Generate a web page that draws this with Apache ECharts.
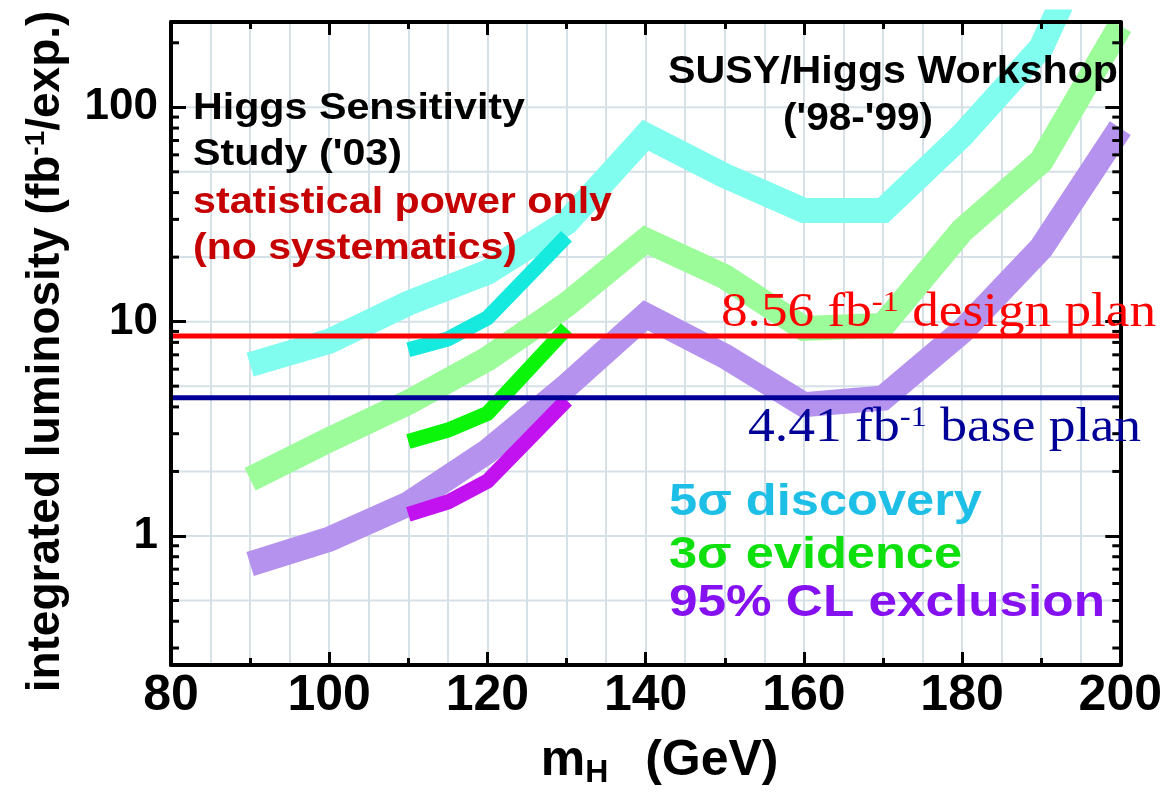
<!DOCTYPE html>
<html>
<head>
<meta charset="utf-8">
<script src="https://cdn.jsdelivr.net/npm/echarts@6/dist/echarts.min.js"></script>
<style>
  html, body { margin: 0; padding: 0; background: #ffffff; }
  #chart { width: 1165px; height: 794px; }
</style>
</head>
<body>
<div id="chart"></div>
<script>
// Higgs mass points (GeV) for the workshop curves
const massGeV = [90, 100, 110, 120, 130, 140, 150, 160, 170, 180, 190, 200];
// Integrated luminosity needed per experiment (fb^-1), SUSY/Higgs Workshop ('98-'99)
const discovery5Sigma = [6.3, 8.1, 12.2, 17.0, 29, 74, 48, 33, 33, 74, 190, 1200];
const evidence3Sigma  = [1.84, 2.81, 4.2, 6.7, 12.0, 24, 16.2, 9.3, 9.6, 26.6, 56, 240];
const exclusion95CL   = [0.74, 0.965, 1.41, 2.48, 5.0, 10.7, 6.9, 4.1, 4.4, 9.0, 22, 80];
// Higgs Sensitivity Study ('03), statistical power only
const studyMassGeV   = [110, 115, 120, 130];
const studyDiscovery = [7.4, 8.3, 10.4, 25];
const studyEvidence  = [2.76, 3.12, 3.73, 9.3];
const studyExclusion = [1.26, 1.44, 1.80, 4.3];
// Run plans (fb^-1)
const designPlan = 8.56;
const basePlan = 4.41;
// Axis ticks
const xTickLabels = [80, 100, 120, 140, 160, 180, 200];
const yTickLabels = [1, 10, 100];
const yGridValues = [0.5, 1, 2, 5, 10, 20, 50, 100];
const yMinorTicks = [0.3, 0.4, 0.5, 0.6, 0.7, 0.8, 0.9,
                     2, 3, 4, 5, 6, 7, 8, 9,
                     20, 30, 40, 50, 60, 70, 80, 90, 200];

const SANS = '"Liberation Sans", Arial, Helvetica, sans-serif';
const SERIF = '"Liberation Serif", "Times New Roman", serif';
const X_MIN = 80, X_MAX = 200;

const chart = echarts.init(document.getElementById('chart'), null, { renderer: 'canvas' });

const pairs = (xs, ys) => xs.map((x, i) => [x, ys[i]]);

function band(name, xs, ys, color, width, z) {
  return {
    type: 'line', name, data: pairs(xs, ys), xAxisIndex: 0, yAxisIndex: 0,
    symbol: 'none', showSymbol: false, silent: true, z,
    itemStyle: { color },
    lineStyle: { color, width, join: 'miter', cap: 'butt', miterLimit: 10 }
  };
}

function planLine(name, value, color) {
  return {
    type: 'line', name, data: [[X_MIN, value], [X_MAX, value]], xAxisIndex: 0, yAxisIndex: 0,
    symbol: 'none', showSymbol: false, silent: true, z: 4,
    itemStyle: { color }, lineStyle: { color, width: 5, cap: 'butt' }
  };
}

const frameLine = { show: true, onZero: false, lineStyle: { color: '#000', width: 4 } };

function xFrame(position, showLabels) {
  return {
    type: 'value', position, min: X_MIN, max: X_MAX, interval: 20, z: 10,
    axisLine: frameLine,
    axisTick: { show: true, inside: true, length: 13, lineStyle: { color: '#000', width: 3 } },
    minorTick: { show: true, splitNumber: 2, length: 7, lineStyle: { color: '#000', width: 3 } },
    splitLine: { show: false },
    axisLabel: {
      show: showLabels, margin: 6, color: '#000', fontSize: 50, fontWeight: 'bold', fontFamily: SANS,
      formatter: v => xTickLabels.includes(Math.round(v)) ? String(Math.round(v)) : ''
    }
  };
}

function yFrame(position, showLabels) {
  return {
    type: 'log', logBase: 10, position, min: 0.25, max: 250, z: 10,
    axisLine: frameLine,
    axisTick: { show: true, inside: true, length: 15, lineStyle: { color: '#000', width: 3 } },
    minorTick: { show: false },
    splitLine: { show: false },
    axisLabel: {
      show: showLabels, margin: 13, color: '#000', fontSize: 44, fontWeight: 'bold', fontFamily: SANS,
      formatter: v => {
        const hit = yTickLabels.find(t => Math.abs(t - v) / t < 1e-6);
        return hit === undefined ? '' : String(hit);
      }
    }
  };
}

const xAxes = [
  Object.assign(xFrame('bottom', true), {
    name: '{m|m}{h|H}{g|  (GeV)}',
    nameLocation: 'middle', nameGap: 68,
    nameTextStyle: {
      padding: [0, 0, 0, 28],
      rich: {
        m: { fontSize: 50, fontWeight: 'bold', fontFamily: SANS, color: '#000', lineHeight: 56 },
        h: { fontSize: 32, fontWeight: 'bold', fontFamily: SANS, color: '#000', lineHeight: 32, verticalAlign: 'bottom' },
        g: { fontSize: 50, fontWeight: 'bold', fontFamily: SANS, color: '#000', lineHeight: 56, padding: [0, 0, 0, 9] }
      }
    }
  }),
  xFrame('top', false),
  {
    // 5 GeV guide lines
    type: 'value', position: 'bottom', min: X_MIN, max: X_MAX, interval: 5, z: 0,
    axisLine: { show: false }, axisTick: { show: false }, axisLabel: { show: false },
    splitLine: { show: true, lineStyle: { color: '#d5e1e7', width: 2 } }
  }
];

const yAxes = [
  Object.assign(yFrame('left', true), {
    name: '{a|integrated luminosity (fb}{s|-1}{a|/exp.)}',
    nameLocation: 'middle', nameGap: 101,
    nameTextStyle: {
      padding: [0, 16, 0, 0],
      rich: {
        a: { fontSize: 46, fontWeight: 'bold', fontFamily: SANS, color: '#000', lineHeight: 48 },
        s: { fontSize: 28, fontWeight: 'bold', fontFamily: SANS, color: '#000', lineHeight: 28, verticalAlign: 'top' }
      }
    }
  }),
  yFrame('right', false)
];

// horizontal guide lines at 1, 2, 5 per decade
const yGuideSeries = {
  type: 'custom', name: 'y-guides', xAxisIndex: 0, yAxisIndex: 0, z: 1, silent: true, clip: false,
  data: yGridValues.map(v => [X_MIN, v]),
  renderItem: (params, api) => {
    const a = api.coord([X_MIN, api.value(1)]);
    const b = api.coord([X_MAX, api.value(1)]);
    return { type: 'line', shape: { x1: a[0], y1: a[1], x2: b[0], y2: b[1] },
             style: { stroke: '#d5e1e7', lineWidth: 2 } };
  }
};

// short log-decade ticks on both vertical frame lines
const yMinorTickSeries = {
  type: 'custom', name: 'y-minor-ticks', xAxisIndex: 0, yAxisIndex: 0, z: 11, silent: true, clip: false,
  data: yMinorTicks.map(v => [X_MIN, v]),
  renderItem: (params, api) => {
    const a = api.coord([X_MIN, api.value(1)]);
    const b = api.coord([X_MAX, api.value(1)]);
    const style = { stroke: '#000', lineWidth: 3 };
    return { type: 'group', children: [
      { type: 'line', shape: { x1: a[0], y1: a[1], x2: a[0] + 8, y2: a[1] }, style },
      { type: 'line', shape: { x1: b[0] - 8, y1: b[1], x2: b[0], y2: b[1] }, style }
    ] };
  }
};

const option = {
  animation: false,
  backgroundColor: '#ffffff',
  grid: { left: 171, right: 39, top: 22, bottom: 122, containLabel: false },
  xAxis: xAxes,
  yAxis: yAxes,
  series: [
    yGuideSeries,
    band('5σ discovery', massGeV, discovery5Sigma, '#80fdef', 25, 2),
    band('3σ evidence', massGeV, evidence3Sigma, '#9cfc9a', 25, 2),
    band('95% CL exclusion', massGeV, exclusion95CL, '#b592ee', 25, 2),
    band('5σ discovery (2003)', studyMassGeV, studyDiscovery, '#16e9dd', 15, 3),
    band('3σ evidence (2003)', studyMassGeV, studyEvidence, '#0af50a', 15, 3),
    band('95% CL exclusion (2003)', studyMassGeV, studyExclusion, '#c212f0', 15, 3),
    planLine('design plan', designPlan, '#ff0000'),
    planLine('base plan', basePlan, '#000099'),
    yMinorTickSeries
  ]
};

chart.setOption(option);

// ---- annotations ----
const measureCtx = document.createElement('canvas').getContext('2d');
function textWidth(str, size, family, weight) {
  measureCtx.font = `${weight} ${size}px ${family}`;
  return measureCtx.measureText(str).width;
}

function wideText(text, left, right, midY, size, color, family = SANS, weight = 'bold') {
  const w = textWidth(text, size, family, weight);
  return {
    type: 'text', x: left, y: midY, scaleX: (right - left) / w, z: 100, silent: true,
    style: {
      text, fill: color, fontSize: size, fontFamily: family, fontWeight: weight,
      align: 'left', verticalAlign: 'middle', textAlign: 'left', textVerticalAlign: 'middle'
    }
  };
}

// label with a superscript "-1": "<value> fb-1 <tail>"
function planLabel(value, tail, left, right, midY, color) {
  const size = 49, supSize = 30;
  const head = `${value} fb`, sup = '-1', rest = ` ${tail}`;
  const w = textWidth(head, size, SERIF, 'normal') + textWidth(sup, supSize, SERIF, 'normal')
          + textWidth(rest, size, SERIF, 'normal');
  return {
    type: 'text', x: left, y: midY, scaleX: (right - left) / w, z: 100, silent: true,
    style: {
      text: `{n|${head}}{s|${sup}}{n|${rest}}`,
      align: 'left', verticalAlign: 'middle', textAlign: 'left', textVerticalAlign: 'middle',
      rich: {
        n: { fontSize: size, fontFamily: SERIF, fill: color, color, lineHeight: 50 },
        s: { fontSize: supSize, fontFamily: SERIF, fill: color, color, lineHeight: 28, verticalAlign: 'top' }
      }
    }
  };
}

const yDesign = chart.convertToPixel({ yAxisIndex: 0 }, designPlan);
const yBase = chart.convertToPixel({ yAxisIndex: 0 }, basePlan);

chart.setOption({
  graphic: [
    wideText('Higgs Sensitivity', 193, 525, 109, 36, '#000'),
    wideText("Study ('03)", 193, 402, 155, 36, '#000'),
    wideText('statistical power only', 193, 612, 203, 36, '#c60000'),
    wideText('(no systematics)', 193, 517, 249, 36, '#c60000'),
    wideText('SUSY/Higgs Workshop', 668, 1118, 73, 38, '#000'),
    wideText("('98-'99)", 783, 933, 120, 38, '#000'),
    wideText('5σ discovery', 669, 982, 503, 45, '#1ebfe6'),
    wideText('3σ evidence', 669, 962, 556, 45, '#0ee00e'),
    wideText('95% CL exclusion', 669, 1105, 604, 45, '#8510f0'),
    planLabel(designPlan.toFixed(2), 'design plan', 721, 1156, yDesign - 23, '#ff0000'),
    planLabel(basePlan.toFixed(2), 'base plan', 748, 1141, yBase + 30, '#000099')
  ]
});
</script>
</body>
</html>
